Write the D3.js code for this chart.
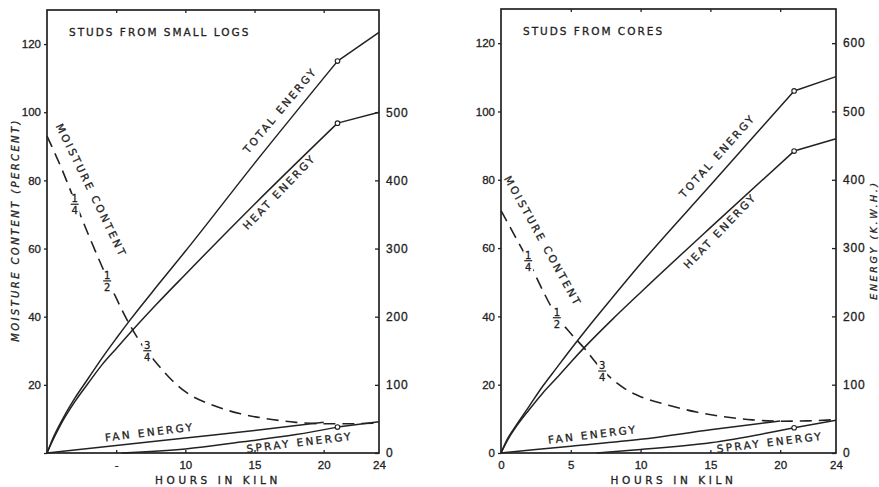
<!DOCTYPE html>
<html>
<head>
<meta charset="utf-8">
<script src="https://cdn.jsdelivr.net/npm/d3@7"></script>
<style>
  html, body { margin: 0; padding: 0; background: #fff; }
  svg { display: block; font-family: 'DejaVu Sans', sans-serif; }
  .tick text { font-size: 11.5px; fill: #222; stroke: #222; stroke-width: 0.3px; }
  .tick line { stroke: #222; stroke-width: 1.3; }
  .lbl { font-size: 10.5px; fill: #222; stroke: #222; stroke-width: 0.3px; letter-spacing: 2.4px; }
</style>
</head>
<body>
<script>
// hours along the energy curves and the moisture curves
const energyHours = [0, 0.5, 1, 2, 3, 4, 5, 6, 8, 10, 15, 21, 24];
const moistureHours = [0, 1, 2, 3, 4, 5, 6, 7, 8, 9, 10, 12, 14, 16, 18, 20, 22, 24];
const fanHours = [0, 5, 10, 15, 20, 24];

// studs from small logs (kWh, percent)
const logsTotal = [0, 25, 45, 80, 110, 140, 168, 195, 246, 296, 425, 575, 617];
const logsHeat = [0, 22, 42, 75, 103, 130, 153, 176, 220, 262, 365, 484, 500];
const logsMoisture = [93, 84, 74, 64, 54.5, 45.5, 37.5, 31, 26, 21.5, 18, 14, 11.5, 10, 9, 8.6, 8.6, 8.8];
const logsFan = [0, 11, 22, 33, 45, 57];
const logsSprayHours = [5.4, 10, 14, 18, 21, 24];
const logsSpray = [0, 6, 16, 27, 38, 46];

// studs from cores
const coresTotal = [0, 22, 38, 68, 98, 125, 152, 178, 228, 277, 392, 530, 551];
const coresHeat = [0, 20, 36, 63, 88, 110, 133, 155, 196, 235, 330, 442, 460];
const coresMoisture = [71, 63.5, 56, 47.5, 40, 35, 30.5, 25.5, 21.5, 18.5, 16.5, 14, 12, 10.6, 9.7, 9.3, 9.4, 9.8];
const coresFan = [0, 10, 20, 34, 47, 58];
const coresSprayHours = [6.85, 10, 15, 21, 24];
const coresSpray = [0, 5, 15, 37, 48];

// tick labels
const hourTicks = [0, 5, 10, 15, 20, 24];
const moistureTicks = [0, 20, 40, 60, 80, 100, 120];
const energyTicks = [0, 100, 200, 300, 400, 500, 600];

const KNEE = 21; // open circles, curve bends here

const W = 879, H = 487;
const svg = d3.select('body').append('svg')
  .attr('width', W)
  .attr('height', H);

const zip = (xs, ys) => xs.map((x, i) => ({ h: x, v: ys[i] }));

function drawPanel(p) {
  const x = d3.scaleLinear().domain([0, 24]).range([p.left, p.right]);
  const yM = d3.scaleLinear().domain([0, 130]).range([p.bottom, p.top]);
  const yE = d3.scaleLinear().domain([0, 650]).range([p.bottom, p.top]);

  const g = svg.append('g').attr('class', 'panel');

  // axes
  const bottomAxis = g.append('g')
    .attr('transform', 'translate(0,' + p.bottom + ')')
    .call(d3.axisBottom(x).tickValues(hourTicks).tickSizeInner(-3).tickSizeOuter(0).tickPadding(8)
      .tickFormat(p.hourFormat));
  g.append('g')
    .attr('transform', 'translate(0,' + p.top + ')')
    .call(d3.axisTop(x).tickValues([5, 10, 15, 20]).tickSizeInner(-3).tickSizeOuter(0).tickFormat(''));
  g.append('g')
    .attr('transform', 'translate(' + p.left + ',0)')
    .call(d3.axisLeft(yM).tickValues(moistureTicks).tickSize(3).tickPadding(3)
      .tickFormat((d) => (d === 0 && !p.showZero) ? '' : d));
  const rightAxis = g.append('g')
    .attr('transform', 'translate(' + p.right + ',0)')
    .call(d3.axisRight(yE).tickValues(energyTicks.filter((d) => d <= p.energyMax))
      .tickSizeInner(-4).tickSizeOuter(0).tickPadding(7));
  rightAxis.selectAll('.tick text').style('font-size', '12px').style('letter-spacing', '0.8px');
  g.selectAll('.domain').remove();
  bottomAxis.selectAll('.tick line').filter((d) => d === 0 || d === 24).remove();

  g.append('rect')
    .attr('x', p.left).attr('y', p.top)
    .attr('width', p.right - p.left).attr('height', p.bottom - p.top)
    .attr('fill', 'none').attr('stroke', '#222').attr('stroke-width', 1.7);

  const lineE = d3.line().x((d) => x(d.h)).y((d) => yE(d.v)).curve(d3.curveMonotoneX);
  const lineM = d3.line().x((d) => x(d.h)).y((d) => yM(d.v)).curve(d3.curveMonotoneX);
  const straightE = d3.line().x((d) => x(d.h)).y((d) => yE(d.v));

  const solid = (pts) => {
    const head = pts.filter((d) => d.h <= KNEE);
    const tail = pts.filter((d) => d.h >= KNEE);
    g.append('path').attr('d', lineE(head))
      .attr('fill', 'none').attr('stroke', '#222').attr('stroke-width', 1.5);
    if (tail.length > 1) {
      g.append('path').attr('d', straightE(tail))
        .attr('fill', 'none').attr('stroke', '#222').attr('stroke-width', 1.5);
    }
  };

  solid(zip(energyHours, p.total));
  solid(zip(energyHours, p.heat));
  solid(zip(fanHours, p.fan));
  solid(zip(p.sprayHours, p.spray));

  g.append('path').attr('d', lineM(zip(moistureHours, p.moisture)))
    .attr('fill', 'none').attr('stroke', '#222').attr('stroke-width', 1.6)
    .attr('stroke-dasharray', '12,7');

  // open circles at the knee
  const knees = [p.total, p.heat].map((s) => s[energyHours.indexOf(KNEE)])
    .concat([p.spray[p.sprayHours.indexOf(KNEE)]]);
  g.selectAll('.knee').data(knees).enter().append('circle')
    .attr('class', 'knee')
    .attr('cx', x(KNEE)).attr('cy', (d) => yE(d)).attr('r', 2.3)
    .attr('fill', '#fff').attr('stroke', '#222').attr('stroke-width', 1.1);

  // fractions on the moisture curve
  p.fractions.forEach((f) => {
    const fx = x(f.h), fy = yM(f.v);
    const fg = g.append('g').attr('transform', 'translate(' + fx + ',' + fy + ')');
    fg.append('rect').attr('x', -5).attr('y', -10).attr('width', 10).attr('height', 21).attr('fill', '#fff');
    fg.append('text').attr('class', 'lbl').attr('y', -2).attr('text-anchor', 'middle')
      .style('font-size', '10px').style('letter-spacing', '0px').text(f.num);
    fg.append('line').attr('x1', -4).attr('x2', 4).attr('y1', 0).attr('y2', 0)
      .attr('stroke', '#222').attr('stroke-width', 1.2);
    fg.append('text').attr('class', 'lbl').attr('y', 10).attr('text-anchor', 'middle')
      .style('font-size', '10px').style('letter-spacing', '0px').text(f.den);
  });

  // curve labels
  p.labels.forEach((l) => {
    const lx = x(l.h), ly = (l.scale === 'M' ? yM : yE)(l.v);
    g.append('text').attr('class', 'lbl')
      .attr('transform', 'translate(' + lx + ',' + ly + ') rotate(' + l.angle + ')')
      .attr('text-anchor', 'middle')
      .attr('dy', l.dy === undefined ? '0.35em' : l.dy)
      .text(l.text);
  });

  g.append('text').attr('class', 'lbl')
    .attr('x', p.left + 22).attr('y', p.top + 26)
    .style('font-size', '10.5px').style('letter-spacing', '2px')
    .text(p.title);

  g.append('text').attr('class', 'lbl')
    .attr('x', (p.left + p.right) / 2 + 5).attr('y', H - 3)
    .attr('text-anchor', 'middle')
    .style('letter-spacing', '3.6px')
    .text('HOURS IN KILN');
}

drawPanel({
  left: 47, right: 379, top: 10, bottom: 453,
  title: 'STUDS FROM SMALL LOGS',
  total: logsTotal, heat: logsHeat, moisture: logsMoisture,
  fan: logsFan, sprayHours: logsSprayHours, spray: logsSpray,
  energyMax: 500, showZero: false,
  hourFormat: (d) => d === 0 ? '' : (d === 5 ? '-' : d),
  fractions: [
    { h: 2.0, v: 73, num: '1', den: '4' },
    { h: 4.35, v: 50.5, num: '1', den: '2' },
    { h: 7.25, v: 30, num: '3', den: '4' }
  ],
  labels: [
    { text: 'TOTAL ENERGY', h: 16.85, v: 503, angle: -50 },
    { text: 'HEAT ENERGY', h: 16.8, v: 383, angle: -46 },
    { text: 'MOISTURE CONTENT', h: 3.2, v: 77, angle: 64, scale: 'M' },
    { text: 'FAN ENERGY', h: 7.45, v: 25, angle: -7, dy: 0 },
    { text: 'SPRAY ENERGY', h: 18.3, v: 10, angle: -7, dy: 0 }
  ]
});

drawPanel({
  left: 501, right: 836, top: 9, bottom: 453,
  title: 'STUDS FROM CORES',
  total: coresTotal, heat: coresHeat, moisture: coresMoisture,
  fan: coresFan, sprayHours: coresSprayHours, spray: coresSpray,
  energyMax: 600, showZero: true,
  hourFormat: (d) => d,
  fractions: [
    { h: 1.95, v: 56.3, num: '1', den: '4' },
    { h: 4.0, v: 39.6, num: '1', den: '2' },
    { h: 7.25, v: 24, num: '3', den: '4' }
  ],
  labels: [
    { text: 'TOTAL ENERGY', h: 15.5, v: 435, angle: -48 },
    { text: 'HEAT ENERGY', h: 15.7, v: 325, angle: -46 },
    { text: 'MOISTURE CONTENT', h: 3.0, v: 62, angle: 61, scale: 'M' },
    { text: 'FAN ENERGY', h: 6.6, v: 21.5, angle: -7, dy: 0 },
    { text: 'SPRAY ENERGY', h: 19.3, v: 10, angle: -7, dy: 0 }
  ]
});

// axis titles
svg.append('text').attr('class', 'lbl')
  .attr('transform', 'translate(15,230) rotate(-90)')
  .attr('text-anchor', 'middle').attr('dy', '0.35em')
  .style('font-style', 'italic').style('font-size', '10px').style('letter-spacing', '2.4px')
  .text('MOISTURE CONTENT (PERCENT)');

svg.append('text').attr('class', 'lbl')
  .attr('transform', 'translate(874,240) rotate(-90)')
  .attr('text-anchor', 'middle').attr('dy', '0.35em')
  .style('font-style', 'italic').style('font-size', '9.5px').style('letter-spacing', '2.6px')
  .text('ENERGY (K.W.H.)');
</script>
</body>
</html>
